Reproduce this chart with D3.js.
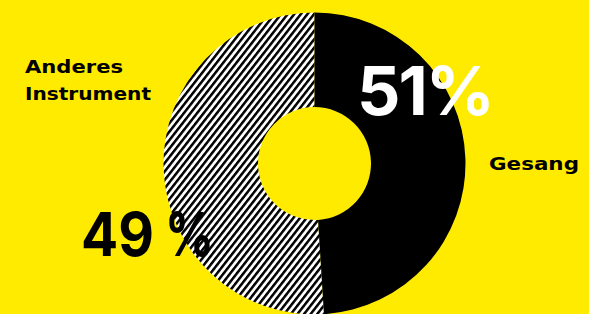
<!DOCTYPE html>
<html>
<head>
<meta charset="utf-8">
<script src="https://cdn.jsdelivr.net/npm/d3@7"></script>
<style>
  html, body { margin: 0; padding: 0; background: #FFEB00; }
  svg { display: block; }
</style>
</head>
<body>
<svg id="chart" width="589" height="314"></svg>
<script>
// Data
const categories = ["Gesang", "Anderes Instrument"];
const values = [51, 49];
const valueNumbers = ["51", "49"];

const W = 589, H = 314;
const cx = 314.5, cy = 163.5, rOuter = 151, rInner = 56.5;

const svg = d3.select("#chart");
svg.append("rect").attr("width", W).attr("height", H).attr("fill", "#FFEB00");

const defs = svg.append("defs");
const pat = defs.append("pattern")
  .attr("id", "hatch")
  .attr("patternUnits", "userSpaceOnUse")
  .attr("width", 5.2).attr("height", 10)
  .attr("patternTransform", "rotate(38)");
pat.append("rect").attr("width", 5.2).attr("height", 10).attr("fill", "#fff");
pat.append("rect").attr("width", 2.5).attr("height", 10).attr("fill", "#000");

// Pie drawn counter-clockwise from the top
const pie = d3.pie().sort(null).startAngle(2 * Math.PI).endAngle(0);
const arcs = pie(values);
const arc = d3.arc().innerRadius(rInner).outerRadius(rOuter);
const fills = ["url(#hatch)", "#000"];

const g = svg.append("g").attr("transform", `translate(${cx},${cy})`);
g.selectAll("path").data(arcs).join("path")
  .attr("d", arc)
  .attr("fill", (d, i) => fills[i]);

// Text
const bigFont = "Inter, 'Open Sans', sans-serif";
const labelFont = "'DejaVu Sans', Inter, sans-serif";

// 51%
svg.append("text").attr("x", 357).attr("y", 115)
  .attr("font-family", bigFont).attr("font-weight", 700)
  .attr("font-size", 68).attr("letter-spacing", -2)
  .attr("fill", "#fff").text(valueNumbers[0] + "%");

// 49 %
const t49 = svg.append("text").attr("y", 256)
  .attr("font-family", bigFont).attr("font-weight", 700)
  .attr("font-size", 60).attr("fill", "#000");
t49.append("tspan").attr("x", 81)
  .attr("textLength", 73).attr("lengthAdjust", "spacingAndGlyphs")
  .text(valueNumbers[1]);
t49.append("tspan").attr("x", 165)
  .attr("textLength", 49).attr("lengthAdjust", "spacingAndGlyphs")
  .text("%");

svg.append("text").attr("x", 489).attr("y", 170)
  .attr("font-family", labelFont).attr("font-weight", 700)
  .attr("font-size", 17)
  .attr("textLength", 90).attr("lengthAdjust", "spacingAndGlyphs")
  .attr("fill", "#000").text(categories[0]);

const words = categories[1].split(" ");
const widths = [98, 126];
const t2 = svg.append("text")
  .attr("font-family", labelFont).attr("font-weight", 700)
  .attr("font-size", 17).attr("fill", "#000");
words.forEach((w, i) => {
  t2.append("tspan").attr("x", 25).attr("y", 73 + i * 27)
    .attr("textLength", widths[i]).attr("lengthAdjust", "spacingAndGlyphs")
    .text(w);
});
</script>
</body>
</html>
